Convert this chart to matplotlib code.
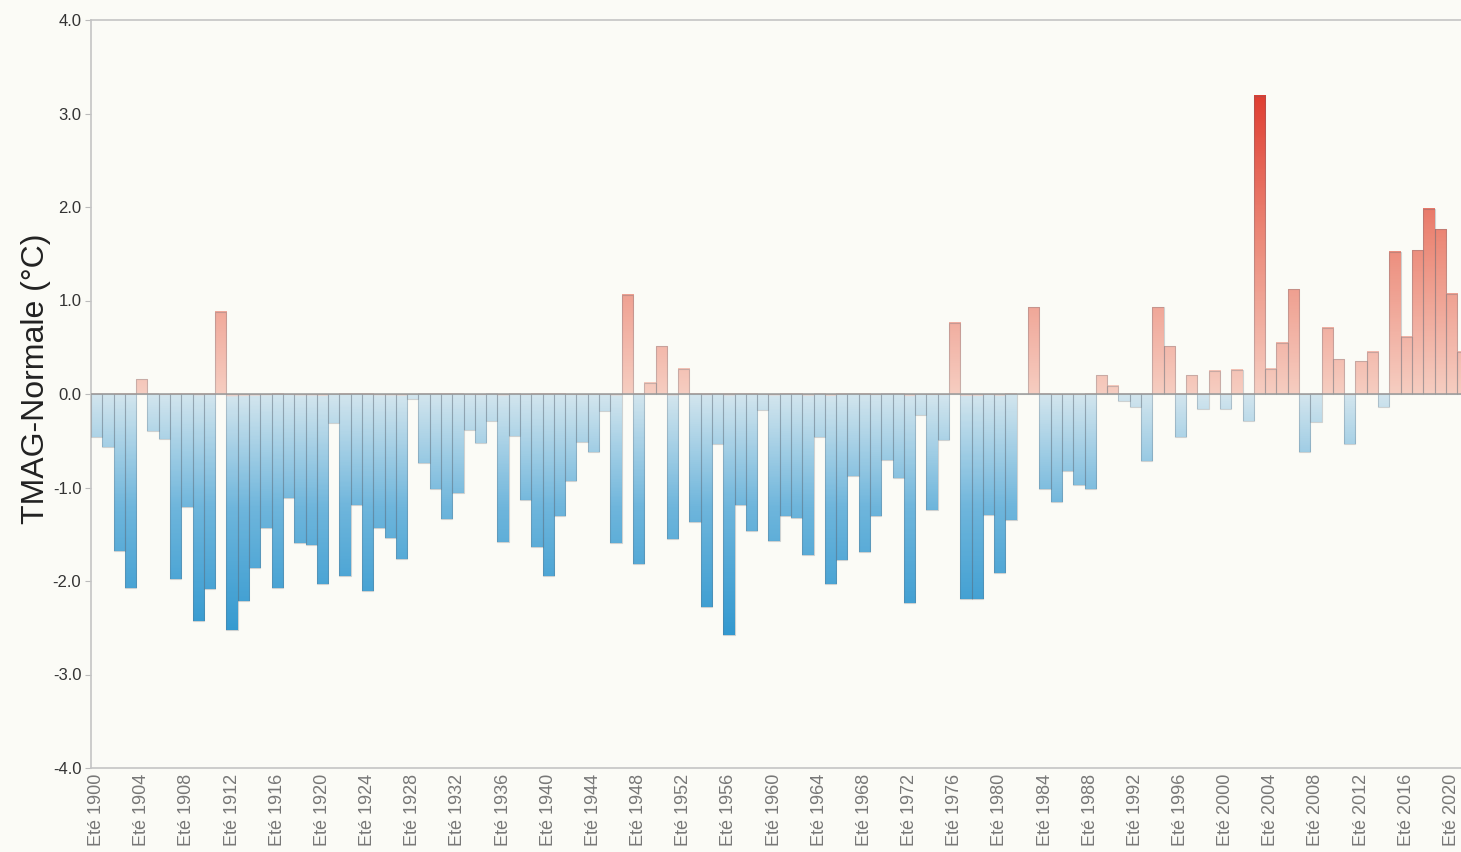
"""Summer temperature anomaly bars (TMAG - normale), 1900-2021"""

import numpy as np
import matplotlib
matplotlib.use("Agg")
import matplotlib.pyplot as plt
from matplotlib.colors import LinearSegmentedColormap, Normalize

plt.rcParams['font.family'] = ['Liberation Sans', 'DejaVu Sans']

# Data
years = list(range(1900, 2022))
anomalies = [
    -0.46, -0.57, -1.68, -2.08, 0.16, -0.40, -0.48, -1.98, -1.21, -2.43,   # 1900-1909
    -2.09, 0.88, -2.52, -2.21, -1.86, -1.43, -2.08, -1.11, -1.59, -1.61,   # 1910-1919
    -2.03, -0.31, -1.95, -1.19, -2.11, -1.43, -1.54, -1.76, -0.05, -0.74,  # 1920-1929
    -1.02, -1.34, -1.06, -0.38, -0.52, -0.29, -1.58, -0.45, -1.13, -1.64,  # 1930-1939
    -1.95, -1.31, -0.93, -0.51, -0.62, -0.18, -1.59, 1.06, -1.82, 0.12,    # 1940-1949
    0.51, -1.55, 0.27, -1.37, -2.28, -0.54, -2.58, -1.19, -1.47, -0.17,    # 1950-1959
    -1.57, -1.31, -1.33, -1.72, -0.46, -2.03, -1.78, -0.88, -1.69, -1.30,  # 1960-1969
    -0.71, -0.90, -2.23, -0.22, -1.24, -0.49, 0.76, -2.19, -2.19, -1.29,   # 1970-1979
    -1.91, -1.35, 0.0, 0.93, -1.02, -1.15, -0.82, -0.97, -1.02, 0.20,      # 1980-1989
    0.09, -0.08, -0.14, -0.72, 0.93, 0.51, -0.46, 0.20, -0.16, 0.25,       # 1990-1999
    -0.16, 0.26, -0.29, 3.19, 0.27, 0.55, 1.12, -0.62, -0.30, 0.71,        # 2000-2009
    0.37, -0.53, 0.35, 0.45, -0.14, 1.52, 0.61, 1.54, 1.98, 1.76,          # 2010-2019
    1.07, 0.45,                                                            # 2020-2021
]
tick_years = list(range(1900, 2021, 4))
tick_labels = ['Eté %d' % y for y in tick_years]
yticks = [-4.0, -3.0, -2.0, -1.0, 0.0, 1.0, 2.0, 3.0, 4.0]

# vertical colour gradient: dark blue (cold) .. light blue | light pink .. red (hot)
vmin, vmax = -2.7, 3.3
z = -vmin / (vmax - vmin)
cmap = LinearSegmentedColormap.from_list('anom', [
    (0.0, '#2f97cf'), (z * 0.55, '#6fb6dc'), (z, '#d4e6ee'),
    (z + 0.001, '#f6cdc1'), (z + (1 - z) * 0.5, '#ec8a79'), (1.0, '#df3a2e')])
norm = Normalize(vmin=vmin, vmax=vmax)

fig = plt.figure(figsize=(14.61, 8.52), dpi=100)
fig.patch.set_facecolor('#fbfbf6')
ax = fig.add_axes([91 / 1461, 1 - 768 / 852, 1 - 91 / 1461, (768 - 20) / 852])
ax.set_facecolor('#fbfbf6')

for yr, v in zip(years, anomalies):
    if v == 0:
        continue
    grad = np.linspace(0, v, 120).reshape(-1, 1)
    lo, hi = min(0, v), max(0, v)
    if v < 0:
        grad = grad[::-1]
    ax.imshow(grad, cmap=cmap, norm=norm, origin='lower', aspect='auto',
              extent=(yr - 0.5, yr + 0.5, lo, hi), zorder=2, interpolation='bilinear')

# thin outlines round the bars
ax.bar(years, anomalies, width=1.0, facecolor='none',
       edgecolor=(0.35, 0.4, 0.45, 0.28), linewidth=0.8, zorder=3)
ax.axhline(0, color='#9a9a9a', linewidth=1.1, zorder=4)

ax.set_xlim(1899.5, 1899.5 + (1461 - 91) / 11.29)
ax.set_ylim(-4.0, 4.0)

ax.set_yticks(yticks)
ax.set_yticklabels(['%.1f' % t for t in yticks], fontsize=12, color='#333333')
ax.set_xticks(tick_years)
ax.set_xticklabels(tick_labels, rotation=90, fontsize=13, color='#777777')
ax.tick_params(axis='y', length=4, color='#bbbbbb', pad=3)
ax.tick_params(axis='x', length=0, pad=4)

ax.set_ylabel('TMAG-Normale (°C)', fontsize=23, color='#222222')
ax.yaxis.set_label_coords(-0.029, 0.521)

for side in ['left', 'bottom', 'top']:
    ax.spines[side].set_color('#c4c4c4')
    ax.spines[side].set_linewidth(1.2)
ax.spines['right'].set_visible(False)

fig.savefig('out.png', dpi=100, facecolor=fig.get_facecolor())
